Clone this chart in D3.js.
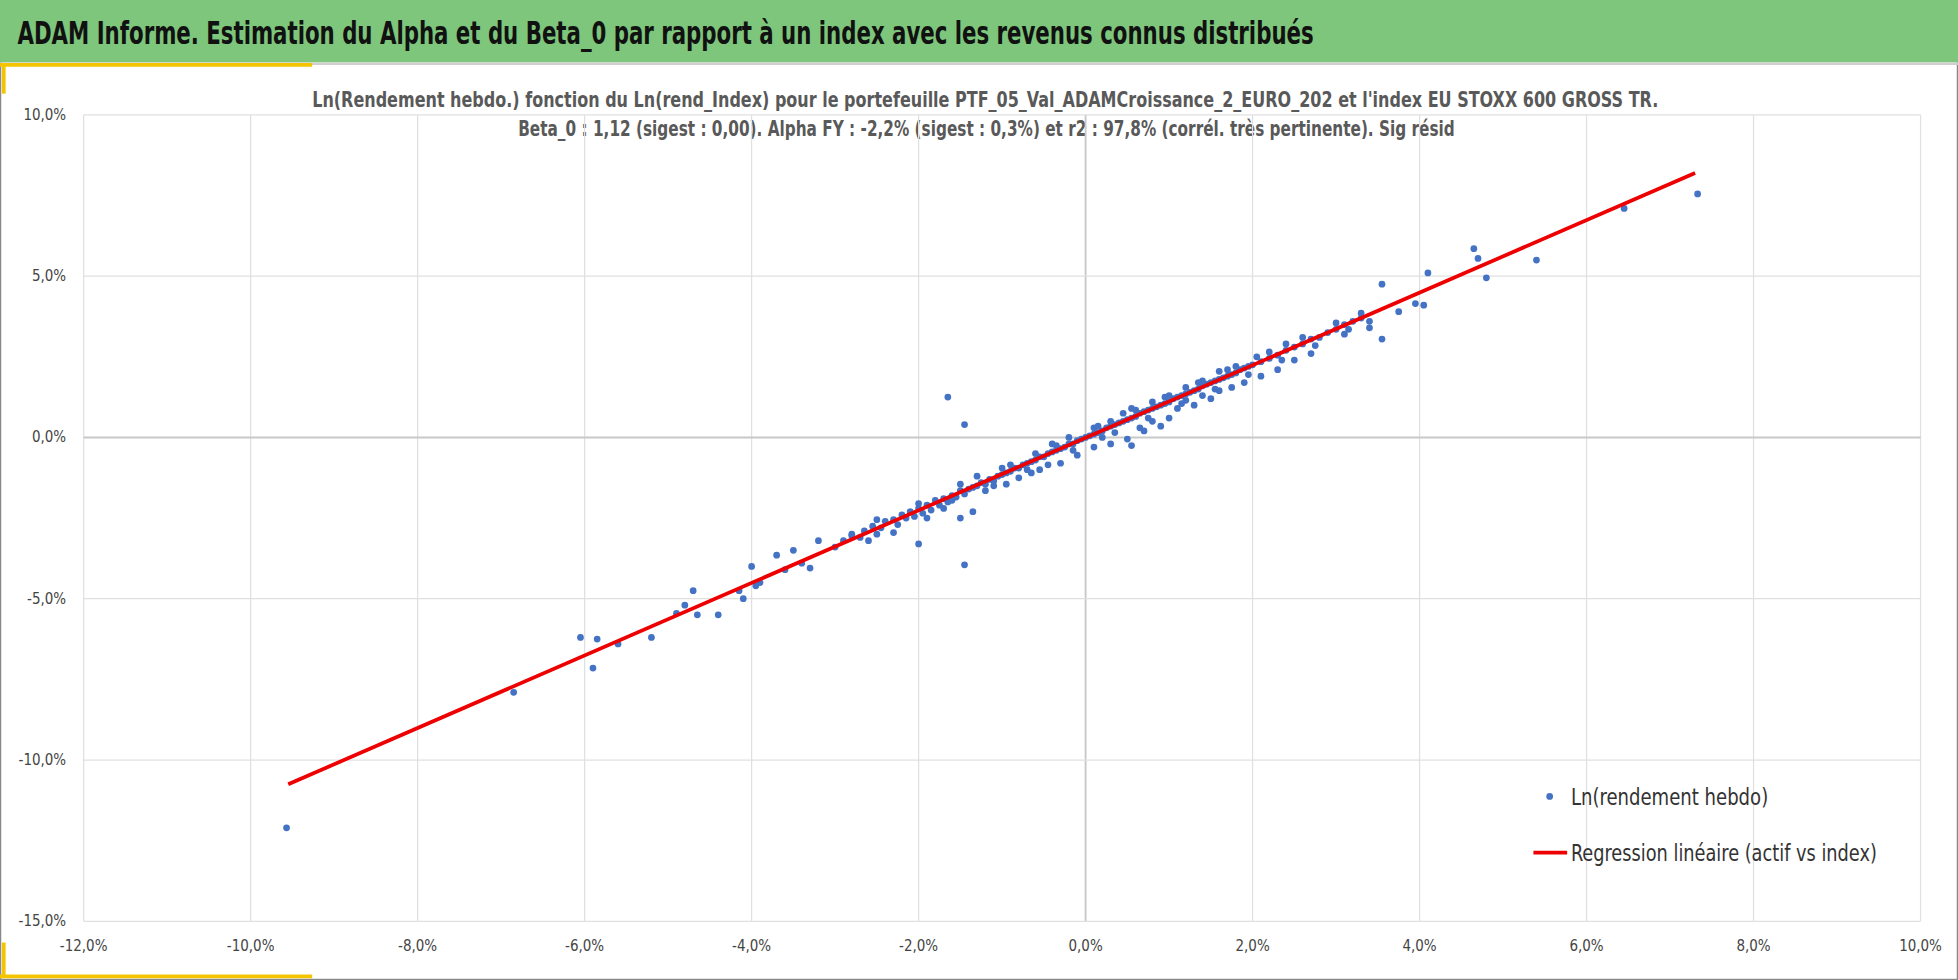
<!DOCTYPE html>
<html>
<head>
<meta charset="utf-8">
<script src="https://cdn.jsdelivr.net/npm/d3@7"></script>
<style>
  body { margin: 0; background: #fff; }
  text { font-family: "Liberation Sans Narrow", "Arial Narrow", "DejaVu Sans Condensed", sans-serif; font-stretch: condensed; }
</style>
</head>
<body>
<svg id="chart"></svg>
<script>
// data in %
var title = "ADAM Informe. Estimation du Alpha et du Beta_0 par rapport à un index avec les revenus connus distribués"
	, subtitle1 = "Ln(Rendement hebdo.) fonction du Ln(rend_Index) pour le portefeuille PTF_05_Val_ADAMCroissance_2_EURO_202 et l'index EU STOXX 600 GROSS TR."
	, subtitle2 = "Beta_0 : 1,12 (sigest : 0,00). Alpha FY : -2,2% (sigest : 0,3%) et r2 : 97,8% (corrél. très pertinente). Sig résid"
	, xTicks = [-12, -10, -8, -6, -4, -2, 0, 2, 4, 6, 8, 10]
	, yTicks = [10, 5, 0, -5, -10, -15]
	, lineX = [-9.55, 7.3]
	, lineY = [-10.75, 8.2]
	, legendNames = ["Ln(rendement hebdo)", "Regression linéaire (actif vs index)"]
	;

var outliers = [
	[-9.57,-12.1],[-6.85,-7.9],[-6.05,-6.2],[-5.9,-7.15],[-5.85,-6.25],[-5.6,-6.4],[-5.2,-6.2],[-4.9,-5.45],
	[-4.8,-5.2],[-4.7,-4.75],[-4.65,-5.5],[-4.4,-5.5],[-4.15,-4.75],[-4.1,-5],[-4.0,-4.0],[-3.95,-4.6],
	[-3.9,-4.5],[-3.7,-3.65],[-3.6,-4.1],[-3.5,-3.5],[-3.4,-3.9],[-3.3,-4.05],[-3.2,-3.2],[-3.0,-3.4],
	[-2.8,-3.05],[-2.5,-3.0],[-2.0,-3.3],[-1.65,1.25],[-1.45,0.4],[-1.45,-3.95],[-1.5,-2.5],[-1.35,-2.3],
	[4.1,5.1],[4.05,4.1],[3.95,4.15],[4.65,5.85],[4.7,5.55],[4.8,4.95],[5.4,5.5],[6.45,7.1],[7.33,7.55],
	[3.55,4.75],[3.55,3.05],[3.75,3.9],[3.4,3.6]
];
var cluster = [
	[-2.9,-3.2],[-2.8,-3.0],[-2.7,-3.1],[-2.65,-2.9],[-2.55,-2.75],[-2.45,-2.8],[-2.4,-2.6],[-2.3,-2.55],
	[-2.25,-2.7],[-2.2,-2.4],[-2.15,-2.5],[-2.1,-2.3],[-2.05,-2.45],[-2.0,-2.2],[-1.95,-2.35],[-1.9,-2.1],
	[-1.85,-2.25],[-1.8,-1.95],[-1.75,-2.1],[-1.7,-1.9],[-1.65,-2.0],[-1.6,-1.8],[-1.55,-1.85],[-1.5,-1.65],
	[-1.45,-1.75],[-1.4,-1.6],[-1.35,-1.55],[-1.3,-1.5],[-1.25,-1.4],[-1.2,-1.45],[-1.15,-1.3],[-1.1,-1.35],
	[-1.05,-1.2],[-1.0,-1.15],[-0.95,-1.1],[-0.9,-1.05],[-0.85,-0.95],[-0.8,-0.95],[-0.75,-0.85],[-0.7,-0.8],
	[-0.65,-0.75],[-0.6,-0.7],[-0.55,-0.6],[-0.5,-0.6],[-0.45,-0.5],[-0.4,-0.45],[-0.35,-0.4],[-0.3,-0.35],
	[-0.25,-0.3],[-0.2,-0.2],[-0.15,-0.2],[-0.1,-0.1],[-0.05,-0.05],[0,0.0],[0.05,0.05],[0.1,0.1],
	[0.15,0.15],[0.2,0.2],[0.25,0.3],[0.3,0.35],[0.35,0.4],[0.4,0.45],[0.45,0.5],[0.5,0.55],[0.55,0.6],
	[0.6,0.65],[0.65,0.75],[0.7,0.8],[0.75,0.85],[0.8,0.9],[0.85,0.95],[0.9,1.0],[0.95,1.05],[1.0,1.1],
	[1.05,1.2],[1.1,1.25],[1.15,1.3],[1.2,1.35],[1.25,1.4],[1.3,1.45],[1.35,1.5],[1.4,1.6],[1.45,1.65],
	[1.5,1.7],[1.55,1.75],[1.6,1.8],[1.65,1.85],[1.7,1.9],[1.75,1.95],[1.8,2.0],[1.85,2.1],[1.9,2.15],
	[1.95,2.2],[2.0,2.25],[2.1,2.35],[2.2,2.45],[2.3,2.55],[2.4,2.7],[2.5,2.8],[2.6,2.9],[2.7,3.05],
	[2.8,3.1],[2.9,3.25],[3.0,3.35],[3.1,3.5],[3.2,3.6],[3.3,3.7],
	[-0.8,-1.25],[-0.55,-1.0],[-0.3,-0.8],[-0.1,-0.55],[0.1,-0.3],[0.3,-0.2],[0.5,-0.05],[0.55,-0.25],
	[0.7,0.2],[0.9,0.35],[1.0,0.6],[1.1,0.9],[1.3,1.0],[1.5,1.2],[1.6,1.45],[1.75,1.55],[1.9,1.7],
	[2.1,1.9],[2.3,2.1],[2.5,2.4],[2.7,2.6],[3.1,3.2],[3.4,3.4],[-1.2,-1.65],[-1.9,-2.5],[-2.3,-2.95],
	[-0.95,-1.45],[-0.45,-0.85],[0.2,0.0],[0.8,0.5],[1.2,1.15],[1.4,1.3],[0.65,0.3],[-0.65,-1.1],
	[-1.7,-2.2],[-2.6,-3.2],
	[-1.0,-0.95],[-0.6,-0.5],[-0.2,0.0],[0.3,0.5],[0.6,0.85],[1.0,1.3],[1.4,1.75],[1.8,2.2],[2.2,2.65],
	[2.6,3.1],[3.0,3.55],[3.3,3.85],[-1.5,-1.45],[-2.0,-2.05],[-2.5,-2.55],[-0.4,-0.2],[0.1,0.3],
	[0.8,1.1],[1.6,2.05],[2.4,2.9],[0.45,0.75],[1.2,1.55],[-1.3,-1.2],
	[-0.9,-0.85],[-0.35,-0.25],[0.15,0.35],[0.55,0.9],[0.95,1.25],[1.35,1.7],[1.7,2.1],[2.05,2.5],
	[-1.6,-1.95],[-1.1,-1.5],[-0.7,-1.0],[-0.15,-0.4],[0.35,0.15],[0.75,0.6],[1.15,1.05],[1.55,1.5],
	[1.95,1.95],[2.35,2.4],[2.75,2.85],[3.15,3.35]
];
var points = outliers.concat(cluster);

var W = 1568, H = 785
	, svg = d3.select('#chart').attr('width', 1958).attr('height', 980)
		.attr('viewBox', '0 0 ' + W + ' ' + H).attr('preserveAspectRatio', 'none')
	, x = d3.scaleLinear().domain([-12, 10]).range([67, 1538])
	, y = d3.scaleLinear().domain([-15, 10]).range([738, 92])
	, fmt = function(d){ return d.toFixed(1).replace('.', ',') + '%'; }
	;

// squeeze text to the widths seen in the reference (condensed font)
function fit(sel, len){ return sel.attr('textLength', len).attr('lengthAdjust', 'spacingAndGlyphs'); }

// frame + header
svg.append('rect').attr('x', 0.5).attr('y', 0.5).attr('width', W - 1).attr('height', H - 1).attr('fill', '#fff').attr('stroke', '#888');
svg.append('rect').attr('x', 0).attr('y', 0).attr('width', W).attr('height', 50).attr('fill', '#7dc67b');
svg.append('line').attr('x1', 0).attr('x2', W).attr('y1', 51).attr('y2', 51).attr('stroke', '#cfcfcf').attr('stroke-width', 2);
svg.append('line').attr('x1', 0).attr('x2', 250).attr('y1', 52).attr('y2', 52).attr('stroke', '#f5c400').attr('stroke-width', 3);
svg.append('line').attr('x1', 3).attr('x2', 3).attr('y1', 52).attr('y2', 75).attr('stroke', '#f5c400').attr('stroke-width', 3);
svg.append('line').attr('x1', 3).attr('x2', 3).attr('y1', 755).attr('y2', 782).attr('stroke', '#f5c400').attr('stroke-width', 3);
svg.append('line').attr('x1', 0).attr('x2', 250).attr('y1', 782).attr('y2', 782).attr('stroke', '#f5c400').attr('stroke-width', 3);
fit(svg.append('text').attr('x', 14).attr('y', 35).attr('font-size', 26).attr('font-weight', 'bold').attr('fill', '#111').text(title), 1038);

fit(svg.append('text').attr('x', 250).attr('y', 86).attr('font-size', 17).attr('font-weight', 'bold').attr('fill', '#595959').text(subtitle1), 1078);
fit(svg.append('text').attr('x', 415).attr('y', 109).attr('font-size', 17).attr('font-weight', 'bold').attr('fill', '#595959').text(subtitle2), 750);

// grid
svg.append('g').selectAll('line').data(xTicks).enter().append('line')
	.attr('x1', function(d){ return x(d); }).attr('x2', function(d){ return x(d); })
	.attr('y1', y(10)).attr('y2', y(-15)).attr('stroke', function(d){ return d === 0 ? '#c8c8c8' : '#e0e0e0'; }).attr('stroke-width', function(d){ return d === 0 ? 1.5 : 1; });
svg.append('g').selectAll('line').data(yTicks).enter().append('line')
	.attr('x1', x(-12)).attr('x2', x(10))
	.attr('y1', function(d){ return y(d); }).attr('y2', function(d){ return y(d); })
	.attr('stroke', function(d){ return d === 0 ? '#c8c8c8' : '#e0e0e0'; }).attr('stroke-width', function(d){ return d === 0 ? 1.5 : 1; });

// axes labels
svg.append('g').selectAll('text').data(xTicks).enter().append('text')
	.attr('x', function(d){ return x(d); }).attr('y', 762).attr('text-anchor', 'middle')
	.attr('font-size', 12).attr('fill', '#444').text(fmt);
svg.append('g').selectAll('text').data(yTicks).enter().append('text')
	.attr('x', 53).attr('y', function(d){ return y(d) + 4; }).attr('text-anchor', 'end')
	.attr('font-size', 12).attr('fill', '#444').text(fmt);

// points
svg.append('g').selectAll('circle').data(points).enter().append('circle')
	.attr('cx', function(d){ return x(d[0]); }).attr('cy', function(d){ return y(d[1]); })
	.attr('r', 2.7).attr('fill', '#4472c4');

// regression
svg.append('line').attr('x1', x(lineX[0])).attr('y1', y(lineY[0])).attr('x2', x(lineX[1])).attr('y2', y(lineY[1]))
	.attr('stroke', '#ee0000').attr('stroke-width', 3);

// legend
svg.append('circle').attr('cx', 1241).attr('cy', 638).attr('r', 2.7).attr('fill', '#4472c4');
fit(svg.append('text').attr('x', 1258).attr('y', 645).attr('font-size', 18).attr('fill', '#333').text(legendNames[0]), 158);
svg.append('line').attr('x1', 1228).attr('x2', 1255).attr('y1', 683).attr('y2', 683).attr('stroke', '#ee0000').attr('stroke-width', 3);
fit(svg.append('text').attr('x', 1258).attr('y', 690).attr('font-size', 18).attr('fill', '#333').text(legendNames[1]), 245);
</script>
</body>
</html>
